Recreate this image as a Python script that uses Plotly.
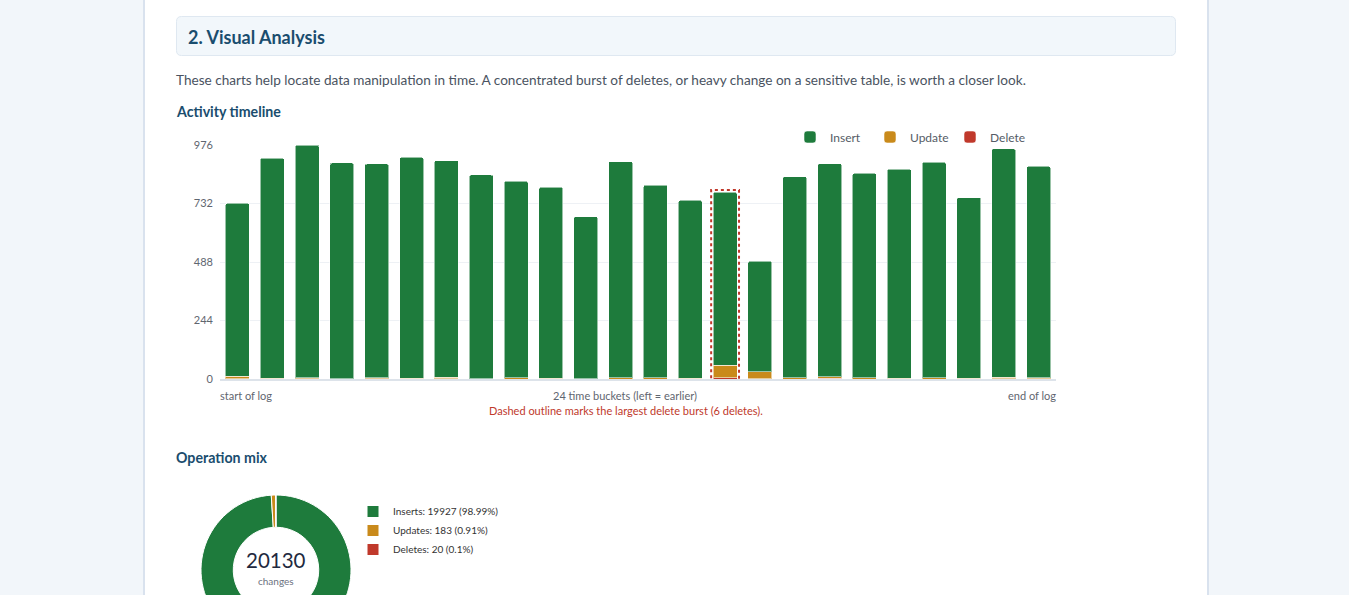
import plotly.graph_objects as go

# ---------------- data ----------------
buckets = list(range(24))
inserts = [722, 917, 970, 899, 891, 922, 904, 849, 820, 796, 675, 901,
           804, 741, 721, 460, 839, 888, 852, 871, 899, 752, 953, 881]
updates = [10, 4, 5, 2, 5, 3, 6, 2, 5, 3, 2, 6,
           5, 4, 52, 30, 5, 6, 6, 3, 5, 3, 6, 5]
deletes = [1, 0, 1, 0, 1, 0, 1, 0, 0, 1, 0, 0,
           0, 0, 6, 1, 0, 4, 0, 1, 0, 1, 1, 1]
series_names = ["Insert", "Update", "Delete"]
mix_names = ["Inserts", "Updates", "Deletes"]

# ---------------- styling ----------------
W, H = 1349, 680
FONT = "Lato, 'Open Sans', sans-serif"
C_INS, C_UPD, C_DEL = "#1e7b3c", "#c98a1b", "#c0392b"
TITLE_C = "#1a4d6e"
TEXT_C = "#4a5361"


def px(x):
    return x / W


def py(y):
    return 1 - y / H


totals = [i + u + d for i, u, d in zip(inserts, updates, deletes)]
ymax = max(totals)
tickvals = [ymax * k / 4 for k in range(5)]

fig = go.Figure()
bar_line = dict(color="rgba(255,255,255,0.55)", width=1)
for name, vals, col, rank in [(series_names[2], deletes, C_DEL, 3),
                              (series_names[1], updates, C_UPD, 2),
                              (series_names[0], inserts, C_INS, 1)]:
    fig.add_trace(go.Bar(x=buckets, y=vals, name=name, marker_color=col,
                         marker_line=bar_line, legendrank=rank, legend="legend"))

# donut
mix_vals = [sum(inserts), sum(updates), sum(deletes)]
grand = sum(mix_vals)
mix_labels = [f"{n}: {v} ({round(v / grand * 100, 2):g}%)" for n, v in zip(mix_names, mix_vals)]
fig.add_trace(go.Pie(labels=mix_labels, values=mix_vals, hole=0.57, sort=False,
                     direction="clockwise", rotation=0,
                     marker=dict(colors=[C_INS, C_UPD, C_DEL], line=dict(color="white", width=1)),
                     textinfo="none", legend="legend2",
                     domain=dict(x=[px(201), px(351)], y=[py(645), py(495)])))

# highlight largest delete burst
burst = max(range(len(deletes)), key=lambda k: deletes[k])
pad = ymax * 0.01
shapes = [
    # white page panel
    dict(type="rect", xref="paper", yref="paper", x0=px(144), x1=px(1208), y0=0, y1=1,
         fillcolor="white", line=dict(width=0), layer="below"),
    dict(type="line", xref="paper", yref="paper", x0=px(144), x1=px(144), y0=0, y1=1,
         line=dict(color="#d9e2ee", width=2), layer="below"),
    dict(type="line", xref="paper", yref="paper", x0=px(1208), x1=px(1208), y0=0, y1=1,
         line=dict(color="#d9e2ee", width=2), layer="below"),
    dict(type="rect", x0=burst - 0.40, x1=burst + 0.40, y0=-pad * 0.8, y1=totals[burst] + pad,
         xref="x", yref="y", line=dict(color=C_DEL, width=2, dash="dot"), layer="above"),
]


def rrect(x0, y0, x1, y1, r):
    # rounded rectangle in pixel coords -> paper path
    def P(x, y):
        return f"{px(x)},{py(y)}"
    return (f"M {P(x0 + r, y0)} L {P(x1 - r, y0)} Q {P(x1, y0)} {P(x1, y0 + r)} "
            f"L {P(x1, y1 - r)} Q {P(x1, y1)} {P(x1 - r, y1)} L {P(x0 + r, y1)} "
            f"Q {P(x0, y1)} {P(x0, y1 - r)} L {P(x0, y0 + r)} Q {P(x0, y0)} {P(x0 + r, y0)} Z")


shapes.append(dict(type="path", xref="paper", yref="paper", path=rrect(176.5, 16.5, 1175.5, 55.5, 5),
                   fillcolor="#f2f7fb", line=dict(color="#dfe8f1", width=1), layer="below"))


def ann(text, x, y, size, color, xanchor="left", bold=False):
    return dict(text=f"<b>{text}</b>" if bold else text, x=px(x), y=py(y), xref="paper", yref="paper",
                xanchor=xanchor, yanchor="middle", showarrow=False,
                font=dict(family=FONT, size=size, color=color))


annotations = [
    ann("2. Visual Analysis", 186, 37, 18, TITLE_C, bold=True),
    ann("These charts help locate data manipulation in time. A concentrated burst of deletes, "
        "or heavy change on a sensitive table, is worth a closer look.", 174, 80, 13.6, TEXT_C),
    ann("Activity timeline", 174, 112, 14.2, TITLE_C, bold=True),
    ann("Operation mix", 174, 457, 14.2, TITLE_C, bold=True),
    ann("start of log", 218, 395, 11, "#5f6670"),
    ann(f"{len(buckets)} time buckets (left = earlier)", 625, 395, 11, "#5f6670", xanchor="center"),
    ann("end of log", 1058, 395, 11, "#5f6670", xanchor="right"),
    ann(f"Dashed outline marks the largest delete burst ({deletes[burst]} deletes).", 626, 410, 11,
        C_DEL, xanchor="center"),
    ann(f"{grand}", 276, 560, 20.5, "#1f2a40", xanchor="center"),
    ann("changes", 276, 581, 10, "#6b7280", xanchor="center"),
]

fig.update_layout(
    width=W, height=H, margin=dict(l=0, r=0, t=0, b=0, pad=0, autoexpand=False),
    paper_bgcolor="#f2f6fa", plot_bgcolor="rgba(0,0,0,0)",
    font=dict(family=FONT, size=11, color="#5f6670"),
    barmode="stack", bargap=0.31, barcornerradius=2,
    xaxis=dict(domain=[px(220), px(1056)], range=[-0.5, len(buckets) - 0.5], automargin=False,
               showticklabels=False, showgrid=False, zeroline=False,
               showline=True, linecolor="#dde3ea", linewidth=2, ticks=""),
    yaxis=dict(domain=[py(379), py(145)], range=[0, ymax], tickvals=tickvals, automargin=False,
               ticktext=[f"{v:g}" for v in tickvals], gridcolor="#eef1f5", gridwidth=1,
               zeroline=False, showline=False, ticks="", ticklabelstandoff=6,
               tickfont=dict(size=11, color="#5f6670")),
    legend=dict(orientation="h", x=px(790), xanchor="left", y=py(137), yanchor="middle",
                entrywidth=35, entrywidthmode="pixels", traceorder="normal",
                font=dict(family=FONT, size=12, color="#555c66"), bgcolor="rgba(0,0,0,0)"),
    legend2=dict(orientation="v", x=px(353), xanchor="left", y=py(497), yanchor="top",
                 font=dict(family=FONT, size=10, color="#333"), bgcolor="rgba(0,0,0,0)"),
    shapes=shapes, annotations=annotations, showlegend=True,
)

fig.write_html("out.html", config={"displayModeBar": False},
               post_script="document.documentElement.style.overflow='hidden';"
                           "document.body.style.overflow='hidden';document.body.style.margin='0';")
